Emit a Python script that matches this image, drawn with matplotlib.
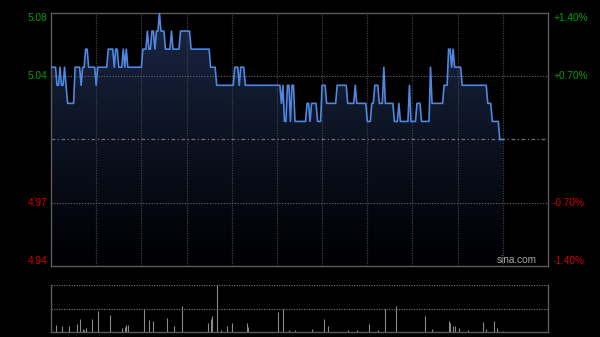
import numpy as np
import matplotlib
matplotlib.use('Agg')
import matplotlib.pyplot as plt

# ---------------- data ----------------
prev_close = 5.00
session_minutes = 330
grid_step = 30
# intraday price as run-length segments: price level, minutes held
seg_prices = [5.04, 5.03, 5.04, 5.03, 5.04, 5.03, 5.02, 5.04, 5.03, 5.04,
              5.05, 5.04, 5.03, 5.04, 5.05, 5.04, 5.05, 5.04, 5.05, 5.04,
              5.05, 5.04, 5.05, 5.06, 5.05, 5.06, 5.05, 5.06, 5.07, 5.06,
              5.05, 5.06, 5.05, 5.06, 5.05, 5.04, 5.03, 5.04, 5.03, 5.04,
              5.03, 5.02, 5.03, 5.01, 5.03, 5.01, 5.03, 5.01, 5.02, 5.01,
              5.02, 5.01, 5.03, 5.02, 5.03, 5.02, 5.03, 5.02, 5.01, 5.02,
              5.03, 5.02, 5.04, 5.02, 5.01, 5.02, 5.01, 5.03, 5.01, 5.02,
              5.01, 5.04, 5.02, 5.03, 5.05, 5.04, 5.05, 5.04, 5.03, 5.02,
              5.01, 5.00]
seg_minutes = [4, 2, 1, 2, 1, 1, 5, 4, 1, 2,
               2, 5, 1, 7, 4, 1, 2, 3, 1, 1,
               1, 10, 3, 1, 2, 2, 1, 2, 1, 3,
               4, 1, 5, 7, 13, 4, 12, 3, 1, 3,
               24, 1, 1, 2, 2, 1, 2, 8, 2, 1,
               4, 3, 3, 7, 7, 5, 1, 7, 3, 2,
               3, 3, 1, 6, 3, 1, 6, 1, 4, 3,
               6, 1, 8, 3, 2, 1, 1, 5, 17, 3,
               5, 3]
# volume (relative to the largest minute = 100)
vol_minutes = [0, 3, 7, 12, 17, 19, 21, 22, 23, 27, 31, 39, 47, 49, 50, 51,
               62, 65, 68, 77, 82, 87, 104, 106, 107, 110, 113, 117, 120, 130,
               131, 151, 154, 158, 162, 173, 181, 184, 197, 203, 211, 217, 222,
               229, 248, 253, 264, 265, 267, 268, 271, 277, 287, 289, 294, 296, 300]
vol_values = [17, 15, 13, 13, 17, 27, 7, 5, 8, 28, 45, 36, 8, 10, 15, 14,
              49, 26, 24, 30, 13, 56, 20, 28, 35, 100, 5, 13, 19, 19,
              10, 43, 48, 5, 4, 6, 27, 12, 5, 4, 18, 5, 50,
              56, 35, 6, 24, 20, 12, 12, 9, 4, 22, 6, 24, 9, 3]
left_labels = ['5.08', '5.04', '4.97', '4.94']
right_labels = ['+1.40%', '+0.70%', '-0.70%', '-1.40%']
pct_levels = [1.4, 0.7, -0.7, -1.4]

# ---------------- figure ----------------
W, H = 600, 337
fig = plt.figure(figsize=(W / 100, H / 100), dpi=100, facecolor='black')

def box(l, t, r, b):
    return [l / W, (H - b) / H, (r - l) / W, (b - t) / H]

ax = fig.add_axes(box(51, 13, 548, 266))
axv = fig.add_axes(box(51, 285, 548, 332))

prices = np.repeat(seg_prices, seg_minutes)
minutes = np.arange(len(prices))
ymin = prev_close * (1 - max(pct_levels) / 100)
ymax = prev_close * (1 + max(pct_levels) / 100)

ax.set_facecolor('black')
ax.set_xlim(0, session_minutes)
ax.set_ylim(ymin, ymax)

# gradient fill under the line
grad = np.linspace(0, 1, 256).reshape(-1, 1)
top = np.array([0.10, 0.155, 0.27])
bot = np.array([0.0, 0.0, 0.01])
img = bot + (top - bot) * grad[..., None] ** 1.1
img = img.reshape(256, 1, 3)
im = ax.imshow(img, extent=[0, session_minutes, ymin, ymax], origin='lower',
               aspect='auto', zorder=1, interpolation='bilinear')
poly = ax.fill_between(minutes, prices, ymin, color='none', lw=0)
im.set_clip_path(poly.get_paths()[0], transform=ax.transData)

# grid
for m in range(grid_step, session_minutes, grid_step):
    ax.axvline(m, color='#3f3f3f', lw=0.9, ls=(0, (1, 1)), zorder=2)
for p in (0.7, -0.7):
    ax.axhline(prev_close * (1 + p / 100), color='#6a6a6a', lw=0.8,
               ls=(0, (1, 1.5)), zorder=2)
ax.axhline(prev_close, color='#707070', lw=0.9, ls=(0, (3, 2, 1, 2)), zorder=2)

ax.plot(minutes, prices, color='#4f86e0', lw=1.2, zorder=3,
        solid_joinstyle='round')

for s in ax.spines.values():
    s.set_color('#5a5a5a')
    s.set_linewidth(1)
ax.set_xticks([])
ax.set_yticks([])

# axis labels
font = dict(family=['Liberation Sans', 'DejaVu Sans'], fontsize=7.3)
ytr = ax.get_yaxis_transform()
green, red = '#0a9c0a', '#d00000'
for lab, rlab, p in zip(left_labels, right_labels, pct_levels):
    y = prev_close * (1 + p / 100)
    col = green if p > 0 else red
    va = 'top' if p == max(pct_levels) else ('bottom' if p == -max(pct_levels) else 'center')
    ax.text(-0.007, y, lab, transform=ytr, ha='right', va=va, color=col, **font)
    ax.text(1.010, y, rlab, transform=ytr, ha='left', va=va, color=col, **font)

ax.text(0.978, 0.022, 'sina.com', transform=ax.transAxes, ha='right',
        va='center', color='#a8a8a8', family=['Liberation Sans', 'DejaVu Sans'],
        fontsize=7.2)

# volume panel
axv.set_facecolor('black')
axv.set_xlim(0, session_minutes)
axv.set_ylim(0, max(vol_values))
axv.vlines(vol_minutes, 0, vol_values, color='#8a8a8a', lw=0.8)
axv.axhline(max(vol_values), color='#6a6a6a', lw=0.9, ls=(0, (1, 1)))
axv.axhline(max(vol_values) / 2, color='#6a6a6a', lw=0.9, ls=(0, (1, 1)))
axv.spines['top'].set_visible(False)
for k in ('left', 'right', 'bottom'):
    axv.spines[k].set_color('#5a5a5a')
    axv.spines[k].set_linewidth(1)
axv.set_xticks([])
axv.set_yticks([])

fig.savefig('out.png', dpi=100, facecolor='black')
